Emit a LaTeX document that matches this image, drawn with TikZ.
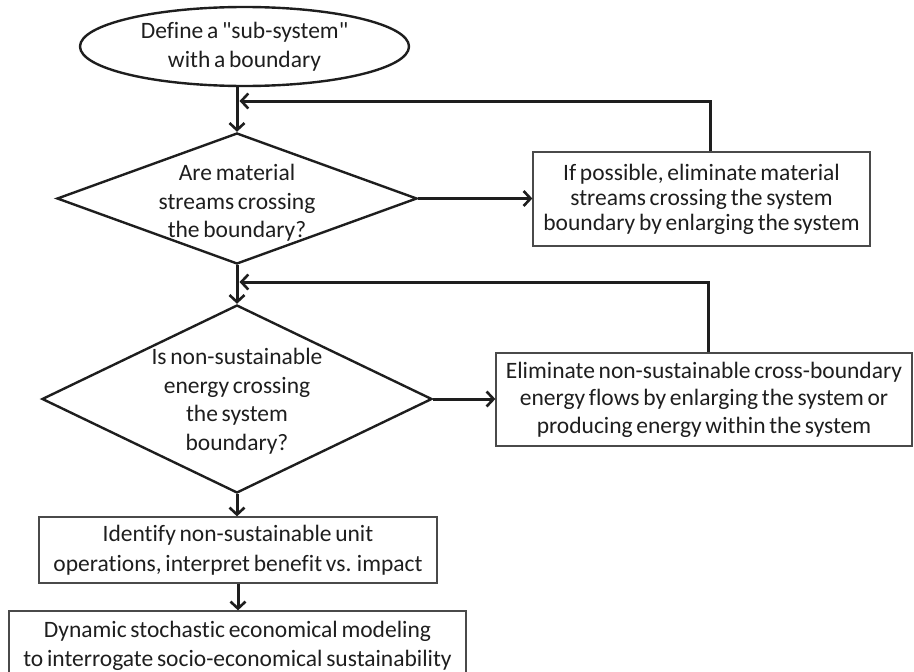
\documentclass[tikz,border=0pt]{standalone}
\usepackage{fontspec}
\setmainfont{Carlito}[Ligatures={TeXOff,NoCommon},WordSpace=0.7]
\usetikzlibrary{shapes.geometric,arrows.meta}
\definecolor{ink}{HTML}{1E1E1E}
\definecolor{boxline}{HTML}{4A4A4A}
\begin{document}
\begin{tikzpicture}[x=1pt,y=-1pt,
  conn/.style={line width=3pt, draw=ink, line join=miter,
    -{Straight Barb[length=7pt,width=15pt,line width=2.6pt]}},
  txt/.style={text=ink, align=center, font=\fontsize{23.5}{28.5}\selectfont},
  startnode/.style={ellipse, draw=ink, line width=2.4pt, inner sep=0pt,
    minimum width=329pt, minimum height=79pt, txt},
  decide/.style={diamond, draw=ink, line width=2.4pt, inner sep=0pt},
  stepbox/.style={rectangle, draw=boxline, line width=1.3pt, inner sep=0pt, txt}
]
\useasboundingbox (0,0) rectangle (914,672);

\node[startnode] (e) at (244.5,46.5) {Define a "sub-system"\\with a boundary};

\node[decide, minimum width=360pt, minimum height=131pt] (d1) at (237,198.5) {};
\node[txt] (t1) at (237,203) {Are material\\streams crossing\\the boundary?};

\node[decide, minimum width=390pt, minimum height=188pt] (d2) at (237,399) {};
\node[txt] (t2) at (237,401) {Is non-sustainable\\energy crossing\\the system\\boundary?};

\node[stepbox, minimum width=337pt, minimum height=94pt,
  font=\fontsize{23.5}{25}\selectfont] (b1) at (701.5,199)
  {If possible, eliminate material\\streams crossing the system\\boundary by enlarging the system};

\node[stepbox, minimum width=416pt, minimum height=93pt,
  font=\fontsize{23.5}{27.5}\selectfont] (b2) at (704,399.5)
  {Eliminate non-sustainable cross-boundary\\energy flows by enlarging the system or\\producing energy within the system};

\node[stepbox, minimum width=398pt, minimum height=66pt,
  font=\fontsize{23.5}{30}\selectfont] (b3) at (238,550)
  {Identify non-sustainable unit\\operations, interpret benefit vs. impact};

\node[stepbox, minimum width=457pt, minimum height=70pt,
  font=\fontsize{23.5}{29}\selectfont] (b4) at (237.5,646)
  {Dynamic stochastic economical modeling\\to interrogate socio-economical sustainability};

\coordinate (j1) at (239.5,101);
\coordinate (j2) at (239.5,282);

\draw[conn] (d1.north |- e.south) -- (d1.north);
\draw[conn] ([xshift=8.5pt]b1.north) |- (j1);
\draw[conn] (d1.east) -- (b1.west |- d1.east);
\draw[conn] (d1.south) -- (d2.north);
\draw[conn] ([xshift=4pt]b2.north) |- (j2);
\draw[conn] (d2.east) -- (b2.west |- d2.east);
\draw[conn] (d2.south) -- (b3.north -| d2.south);
\draw[conn] (b3.south) -- (b4.north -| b3.south);
\end{tikzpicture}
\end{document}
